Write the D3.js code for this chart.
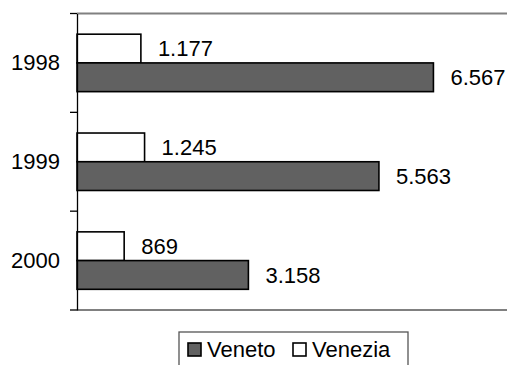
<!DOCTYPE html>
<html>
<head>
<meta charset="utf-8">
<script src="https://cdn.jsdelivr.net/npm/d3@7"></script>
<style>
  html, body { margin: 0; padding: 0; background: #fff; }
  svg { display: block; font-family: "Liberation Sans", Arial, sans-serif; }
</style>
</head>
<body>
<svg id="chart" width="507" height="365"></svg>
<script>
// Years shown on the category axis, top to bottom
const years = ["1998", "1999", "2000"];
// Series values per year
const veneto = [6567, 5563, 3158];
const venezia = [1177, 1245, 869];
const seriesNames = ["Venezia", "Veneto"];
const legendNames = ["Veneto", "Venezia"];
const xMax = 8000;

const colors = { Veneto: "#616161", Venezia: "#ffffff" };
const rows = years.map((y, i) => ({ year: y, Veneto: veneto[i], Venezia: venezia[i] }));

const svg = d3.select("#chart");
const W = 507;
const plotLeft = 77, plotTop = 13.5, plotBottom = 310;

const fmt = d3.formatLocale({ decimal: ",", thousands: ".", grouping: [3], currency: ["", ""] }).format(",d");

const x = d3.scaleLinear().domain([0, xMax]).range([plotLeft, plotLeft + 434.2]);
const y0 = d3.scaleBand().domain(years).range([plotTop, plotBottom]).padding(0);
const y1 = d3.scaleBand().domain(seriesNames).range([0, y0.bandwidth()]).paddingInner(0).paddingOuter(0.72);

// plot area frame lines (top and bottom)
svg.append("line").attr("x1", plotLeft).attr("x2", W).attr("y1", plotTop).attr("y2", plotTop)
  .attr("stroke", "#808080").attr("stroke-width", 2);
svg.append("line").attr("x1", plotLeft).attr("x2", W).attr("y1", plotBottom).attr("y2", plotBottom)
  .attr("stroke", "#808080").attr("stroke-width", 2);

// bars
const groups = svg.append("g").selectAll("g").data(rows).join("g")
  .attr("transform", d => `translate(0,${y0(d.year)})`);

groups.selectAll("rect").data(d => seriesNames.map(s => ({ s, v: d[s] }))).join("rect")
  .attr("x", x(0))
  .attr("y", d => y1(d.s))
  .attr("width", d => x(d.v) - x(0))
  .attr("height", y1.bandwidth())
  .attr("fill", d => colors[d.s])
  .attr("stroke", "#000")
  .attr("stroke-width", 1.6);

groups.selectAll("text").data(d => seriesNames.map(s => ({ s, v: d[s] }))).join("text")
  .attr("x", d => x(d.v) + 17)
  .attr("y", d => y1(d.s) + y1.bandwidth() / 2)
  .attr("dy", "0.36em")
  .attr("font-size", 22)
  .attr("fill", "#000")
  .text(d => fmt(d.v));

// category axis
const axis = d3.axisLeft(y0).tickSize(0).tickPadding(17);
const ag = svg.append("g").attr("transform", `translate(${plotLeft},0)`).call(axis);
ag.select(".domain").attr("stroke", "#000").attr("stroke-width", 1.3);
ag.selectAll("text").attr("font-size", 22).attr("font-family", "Liberation Sans, Arial, sans-serif").attr("fill", "#000");

// tick marks between categories
const tickYs = [plotTop].concat(years.map(yr => y0(yr) + y0.bandwidth()));
svg.append("g").selectAll("line").data(tickYs).join("line")
  .attr("x1", plotLeft - 7).attr("x2", plotLeft)
  .attr("y1", d => d).attr("y2", d => d)
  .attr("stroke", "#000").attr("stroke-width", 1.3);

// legend
const lg = svg.append("g");
lg.append("rect").attr("x", 179).attr("y", 332).attr("width", 229).attr("height", 40)
  .attr("fill", "#fff").attr("stroke", "#555").attr("stroke-width", 1.3);
const legendX = [188, 293];
legendNames.forEach((name, i) => {
  lg.append("rect").attr("x", legendX[i]).attr("y", 343).attr("width", 13).attr("height", 13)
    .attr("fill", colors[name]).attr("stroke", "#000").attr("stroke-width", 1.6);
  lg.append("text").attr("x", legendX[i] + 19).attr("y", 357)
    .attr("font-size", 22).attr("fill", "#000").text(name);
});
</script>
</body>
</html>
